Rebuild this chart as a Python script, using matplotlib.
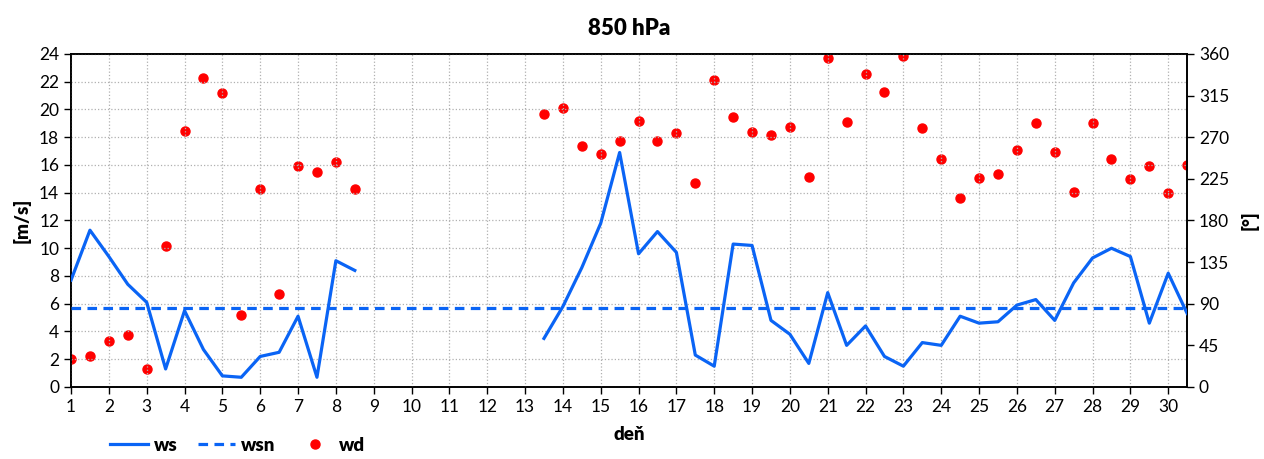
import numpy as np
import matplotlib.pyplot as plt

# days in half-day steps, 1 .. 30.5
days = np.arange(1, 31, 0.5)
nan = np.nan

# wind speed [m/s]
ws = [7.7, 11.3, 9.4, 7.4, 6.1, 1.3, 5.5, 2.7, 0.8, 0.7,
      2.2, 2.5, 5.1, 0.7, 9.1, 8.4, nan, nan, nan, nan,
      nan, nan, nan, nan, nan, 3.5, 5.8, 8.6, 11.8, 16.9,
      9.6, 11.2, 9.7, 2.3, 1.5, 10.3, 10.2, 4.8, 3.8, 1.7,
      6.8, 3.0, 4.4, 2.2, 1.5, 3.2, 3.0, 5.1, 4.6, 4.7,
      5.9, 6.3, 4.8, 7.5, 9.3, 10.0, 9.4, 4.6, 8.2, 5.3]

# wind direction [deg]
wd = [30, 33, 50, 56, 19, 152, 277, 334, 318, 78,
      214, 101, 239, 232, 243, 214, nan, nan, nan, nan,
      nan, nan, nan, nan, nan, 295, 302, 261, 252, 266,
      288, 266, 275, 221, 332, 292, 276, 272, 281, 227,
      356, 287, 338, 319, 358, 280, 246, 204, 226, 230,
      256, 285, 254, 211, 285, 247, 225, 239, 210, 240]

# normal wind speed
wsn_value = 5.7
wsn = [wsn_value] * len(days)

plt.rcParams['font.family'] = ['Lato', 'DejaVu Sans']

fig = plt.figure(figsize=(12.64, 4.59), dpi=100)
ax = fig.add_axes([0.0562, 0.1569, 0.8830, 0.7255])
ax2 = ax.twinx()

blue = '#0a64f5'
l1, = ax.plot(days, ws, color=blue, lw=2.3, label='ws', zorder=3)
l2, = ax.plot(days, wsn, color=blue, lw=2.3, ls=(0, (3, 2)), label='wsn', zorder=3)
l3, = ax2.plot(days, wd, ls='none', marker='o', ms=6.5, color='#ff0000', label='wd')

ax.set_xlim(1, 30.5)
ax.set_ylim(0, 24)
ax.set_yticks(np.arange(0, 25, 2))
ax.set_xticks(np.arange(1, 31, 1))
ax2.set_ylim(0, 360)
ax2.set_yticks(np.arange(0, 361, 45))

ax.grid(True, color='#b0b0b0', ls=':', lw=0.9)
ax.set_axisbelow(True)
ax.set_zorder(ax2.get_zorder() + 1)
ax.patch.set_visible(False)

for a in (ax, ax2):
    a.tick_params(labelsize=12.5, direction='out', length=5, width=1)
    for s in a.spines.values():
        s.set_linewidth(1.2)

ax.set_title('850 hPa', fontsize=16, fontweight='heavy', pad=14)
ax.set_xlabel('deň', fontsize=13.5, fontweight='heavy', labelpad=8)
ax.set_ylabel('[m/s]', fontsize=13.5, fontweight='heavy', labelpad=6)
ax2.set_ylabel('[°]', fontsize=13.5, fontweight='heavy', labelpad=8)

fig.legend(handles=[l1, l2, l3], loc='lower left', bbox_to_anchor=(0.074, -0.025),
           ncol=3, frameon=False, prop={'size': 13.5, 'weight': 'heavy'},
           handlelength=2.0, columnspacing=1.1, handletextpad=0.3)

fig.savefig('out.png', dpi=100)
